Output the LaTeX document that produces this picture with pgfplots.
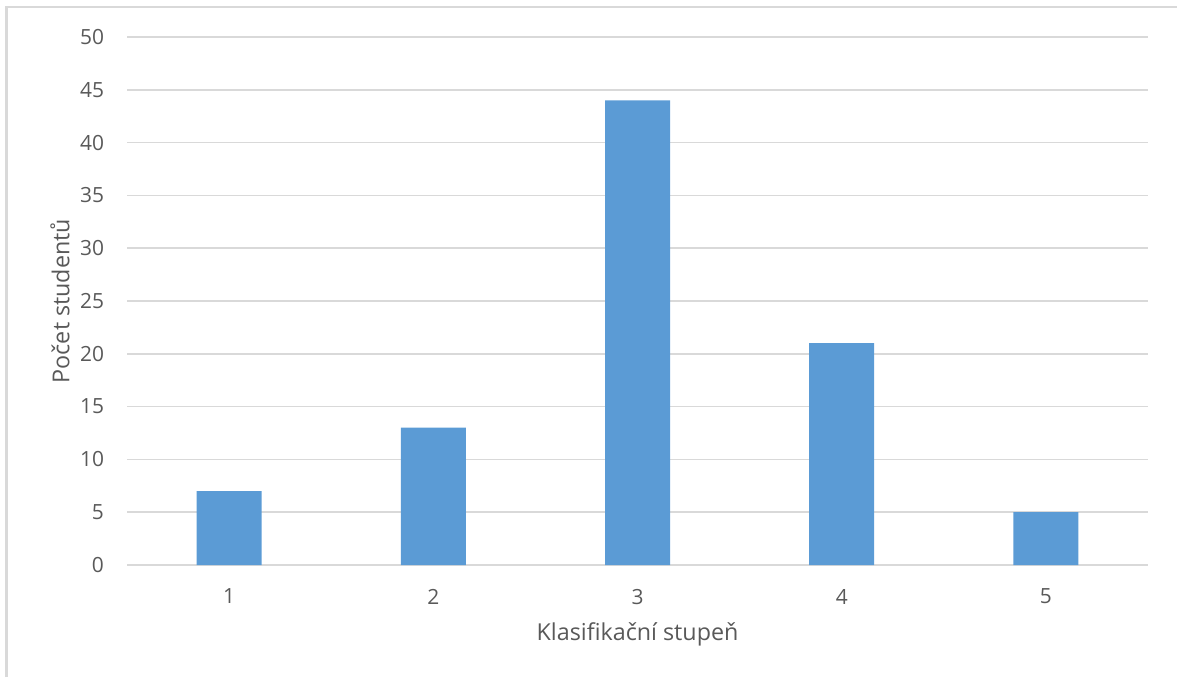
\documentclass[border=0pt]{standalone}
\usepackage{pgfplots}
\pgfplotsset{compat=1.18}
\usepackage{fontspec}
\setmainfont{Open Sans}
\definecolor{txtgray}{HTML}{595959}
\definecolor{gridgray}{HTML}{D9D9D9}
\definecolor{barblue}{HTML}{5B9BD5}
\begin{document}
\begin{tikzpicture}[x=0.5bp,y=0.5bp]
% page extent and the chart frame (left and top edges)
\useasboundingbox (-127,-112) rectangle (1050,565);
\draw[gridgray, line width=1.2bp] (-120.5,-112) -- (-120.5,558) -- (1050,558);
\begin{axis}[
  at={(0,0)}, anchor=south west,
  scale only axis,
  width=510.5bp, height=264bp,
  xmin=0.5, xmax=5.5,
  ymin=0, ymax=50,
  ytick={0,5,...,50},
  xtick={1,2,3,4,5},
  axis line style={draw=none},
  major tick style={draw=none},
  ymajorgrids,
  major grid style={gridgray, line width=0.8bp},
  /pgf/number format/assume math mode=true,
  ticklabel style={font=\fontsize{10.5}{12}\selectfont, text=txtgray},
  yticklabel style={xshift=-8bp},
  xticklabel style={yshift=-8.5bp},
  xlabel={Klasifikační stupeň},
  ylabel={Počet studentů},
  label style={font=\fontsize{11.7}{14}\selectfont, text=txtgray},
  xlabel style={at={(axis description cs:0.5,-0.1307)}, anchor=center},
  ylabel style={at={(axis description cs:-0.0656,0.5)}, anchor=center},
]
\addplot[ybar, bar width=32.5bp, fill=barblue, draw=none]
  coordinates {(1,7) (2,13) (3,44) (4,21) (5,5)};
\end{axis}
\end{tikzpicture}
\end{document}
